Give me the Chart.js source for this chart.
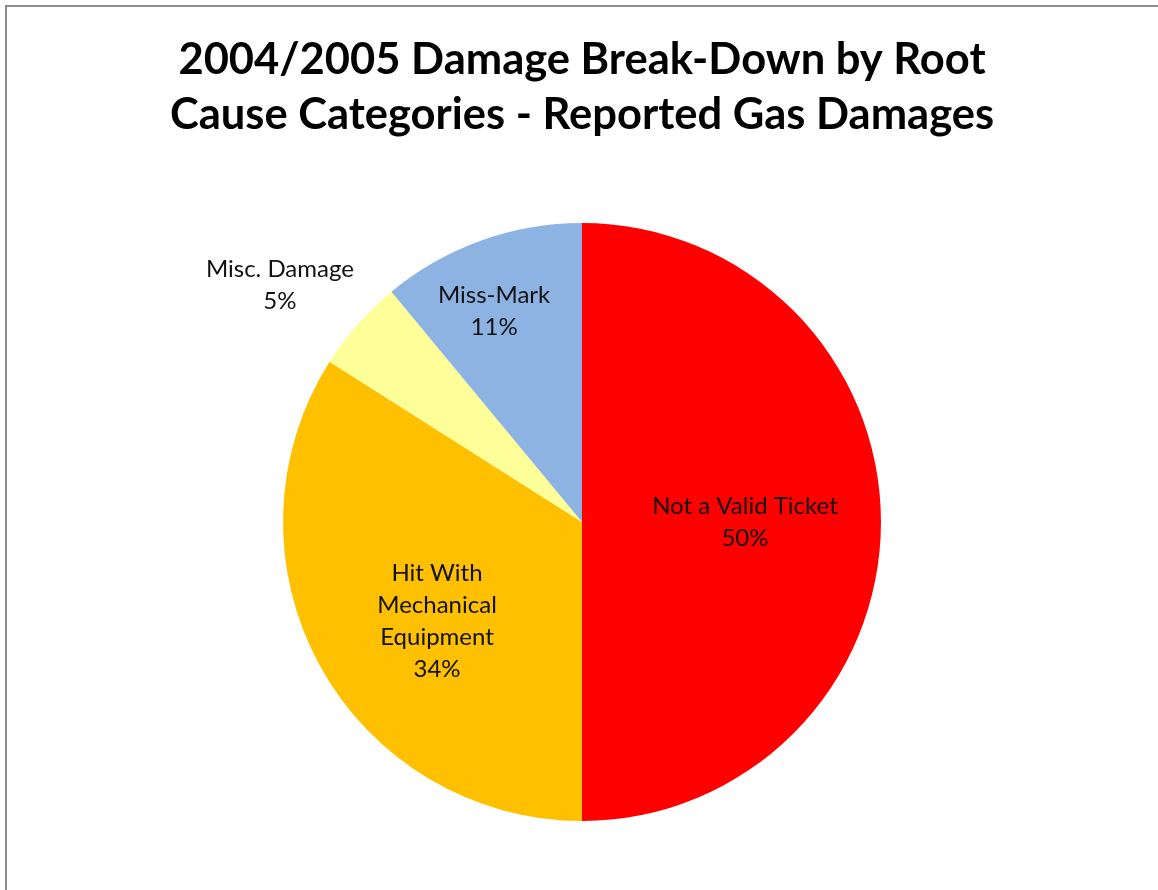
<!DOCTYPE html>
<html>
<head>
<meta charset="utf-8">
<script src="https://cdn.jsdelivr.net/npm/chart.js@4/dist/chart.umd.min.js"></script>
<style>
    html, body { margin: 0; padding: 0; background: #fff; overflow: hidden; }
    #frame {
        position: absolute; left: 5px; top: 5px; width: 1300px; height: 1000px;
        border-left: 2px solid #8c8c8c; border-top: 2px solid #8c8c8c;
    }
    #wrap { position: absolute; left: 0; top: 0; width: 1158px; height: 890px; }
</style>
</head>
<body>
<div id="frame"></div>
<div id="wrap"><canvas id="myChart"></canvas></div>
<script>
const categories = ['Not a Valid Ticket', 'Hit With Mechanical Equipment', 'Misc. Damage', 'Miss-Mark'];
const labelLines = [['Not a Valid Ticket'], ['Hit With', 'Mechanical', 'Equipment'], ['Misc. Damage'], ['Miss-Mark']];
const percentValues = [50, 34, 5, 11];
const sliceColors = ['#FF0000', '#FFC000', '#FFFF99', '#8DB3E2'];

// label placement: share of the radius, and a small turn (degrees) from the slice middle
const labelRadius = [0.545, 0.587, 1.284, 0.765];
const labelTurn = [0, -5.5, -3.3, -2.8];

const sliceLabels = {
    id: 'sliceLabels',
    afterDatasetsDraw(chart) {
        const ctx = chart.ctx;
        const meta = chart.getDatasetMeta(0);
        ctx.save();
        ctx.font = '24px Lato';
        ctx.fillStyle = '#111';
        ctx.textAlign = 'center';
        ctx.textBaseline = 'middle';
        const lineH = 32;
        meta.data.forEach((arc, i) => {
            const mid = (arc.startAngle + arc.endAngle) / 2 + labelTurn[i] * Math.PI / 180;
            const r = arc.outerRadius * labelRadius[i];
            const cx = arc.x + Math.cos(mid) * r;
            const cy = arc.y + Math.sin(mid) * r;
            const lines = labelLines[i].concat([percentValues[i] + '%']);
            const top = cy - (lines.length - 1) * lineH / 2;
            lines.forEach((t, j) => ctx.fillText(t, cx, top + j * lineH));
        });
        ctx.restore();
    }
};

const ctx = document.getElementById('myChart');

new Chart(ctx, {
    type: 'pie',
    data: {
        labels: categories,
        datasets: [{
            data: percentValues,
            backgroundColor: sliceColors,
            borderWidth: 0
        }]
    },
    options: {
        responsive: true,
        maintainAspectRatio: false,
        animation: false,
        layout: {
            padding: { left: 6, right: 0, top: 0, bottom: 69 }
        },
        plugins: {
            legend: { display: false },
            tooltip: { enabled: false },
            title: {
                display: true,
                text: ['2004/2005 Damage Break-Down by Root', 'Cause Categories - Reported Gas Damages'],
                color: '#000',
                font: { family: 'Lato', size: 43.5, weight: 'bold', lineHeight: 1.265 },
                padding: { top: 32, bottom: 81 }
            }
        }
    },
    plugins: [sliceLabels]
});
</script>
</body>
</html>
